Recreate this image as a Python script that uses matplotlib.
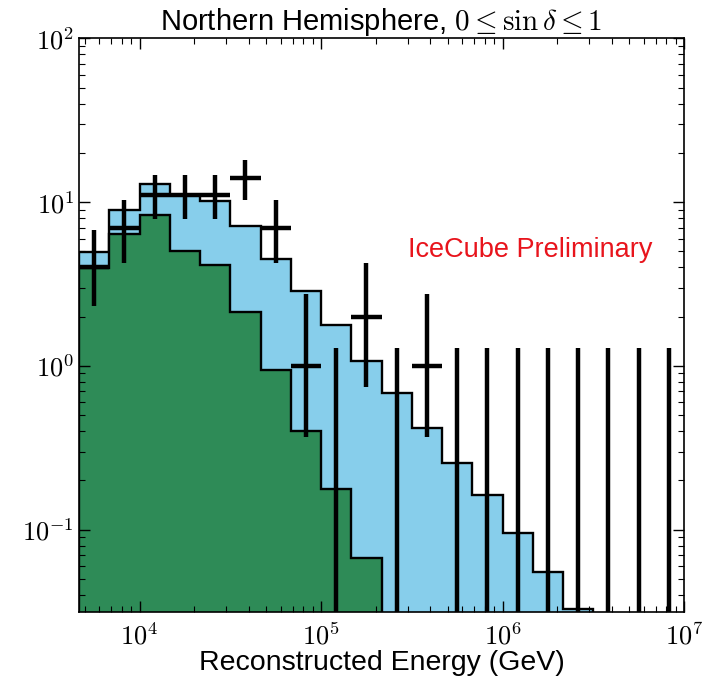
import numpy as np
import matplotlib
matplotlib.use("Agg")
import matplotlib.pyplot as plt
from matplotlib.ticker import FixedLocator, FixedFormatter, LogLocator, NullFormatter

plt.rcParams["font.family"] = ["Liberation Sans", "DejaVu Sans"]
plt.rcParams["mathtext.fontset"] = "cm"

# energy binning: 1/6 decade bins from 10^(11/3) to 10^7 GeV
log_edges = np.linspace(11 / 3, 7, 21)

# expected events, total (signal + background) and background only
total_exp = [4.94, 8.98, 12.97, 11.1, 10.2, 7.2, 4.5, 2.85, 1.78, 1.07,
             0.687, 0.419, 0.256, 0.164, 0.095, 0.0555, 0.0328, 0, 0, 0]
bkg_exp = [3.96, 6.4, 8.3, 5.06, 4.15, 2.14, 0.94, 0.40, 0.177, 0.0676,
           0, 0, 0, 0, 0, 0, 0, 0, 0, 0]

# observed events with 68% confidence intervals
observed = [4, 7, 11, 11, 11, 14, 7, 1, 0, 2, 0, 1, 0, 0, 0, 0, 0, 0, 0, 0]
obs_lo = [2.33, 4.25, 7.9, 7.9, 7.9, 10.3, 4.25, 0.37, 0, 0.74,
          0, 0.37, 0, 0, 0, 0, 0, 0, 0, 0]
obs_hi = [6.78, 10.3, 14.7, 14.7, 14.7, 18.0, 10.3, 2.75, 1.29, 4.25,
          1.29, 2.75, 1.29, 1.29, 1.29, 1.29, 1.29, 1.29, 1.29, 1.29]

edges = 10 ** log_edges
centers = 10 ** (0.5 * (log_edges[:-1] + log_edges[1:]))
floor = 1e-4

fig = plt.figure(figsize=(7.12, 6.84), dpi=100)
ax = fig.add_axes([0.111, 0.1057, 0.8497, 0.8382])
ax.set_xscale("log")
ax.set_yscale("log")

ax.stairs(np.clip(total_exp, floor, None), edges, baseline=floor, fill=True,
          facecolor="#87ceeb", edgecolor="none")
ax.stairs(np.clip(total_exp, floor, None), edges, baseline=floor,
          color="black", lw=1.7)
ax.stairs(np.clip(bkg_exp, floor, None), edges, baseline=floor, fill=True,
          facecolor="#2e8b57", edgecolor="none")
ax.stairs(np.clip(bkg_exp, floor, None), edges, baseline=floor,
          color="black", lw=1.7)

obs = np.array(observed, dtype=float)
nz = obs > 0
ax.vlines(centers, np.clip(obs_lo, floor, None), obs_hi, color="black", lw=3.2)
ax.hlines(obs[nz], edges[:-1][nz], edges[1:][nz], color="black", lw=3.2)

ax.set_xlim(edges[0], edges[-1])
ax.set_ylim(10 ** -1.5, 100)

ax.xaxis.set_major_locator(FixedLocator([1e4, 1e5, 1e6, 1e7]))
ax.xaxis.set_major_formatter(FixedFormatter([r"$\mathrm{10^{4}}$", r"$\mathrm{10^{5}}$",
                                             r"$\mathrm{10^{6}}$", r"$\mathrm{10^{7}}$"]))
ax.yaxis.set_major_locator(FixedLocator([0.1, 1, 10, 100]))
ax.yaxis.set_major_formatter(FixedFormatter([r"$\mathrm{10^{-1}}$", r"$\mathrm{10^{0}}$",
                                             r"$\mathrm{10^{1}}$", r"$\mathrm{10^{2}}$"]))
for axis in (ax.xaxis, ax.yaxis):
    axis.set_minor_locator(LogLocator(base=10, subs=np.arange(2, 10), numticks=20))
    axis.set_minor_formatter(NullFormatter())

ax.tick_params(which="both", direction="in", top=True, right=True, labelsize=19)
ax.tick_params(which="major", length=8, width=1)
ax.tick_params(which="minor", length=4, width=0.8)
ax.tick_params(axis="x", pad=8)
for s in ax.spines.values():
    s.set_linewidth(1.2)

ax.text(0.544, 0.631, "IceCube Preliminary", transform=ax.transAxes,
        color="#e8141c", fontsize=19.5, va="center")

ax.set_title(r"Northern Hemisphere, $0 \leq \sin\delta \leq 1$", fontsize=21, pad=5)
ax.set_xlabel("Reconstructed Energy (GeV)", fontsize=20.5, labelpad=0)

fig.savefig("out.png", dpi=100)
